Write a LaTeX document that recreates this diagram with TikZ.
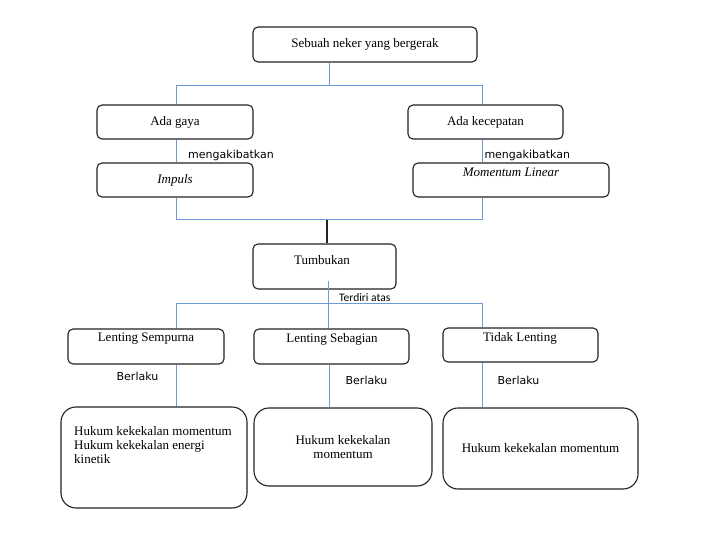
\documentclass[tikz,border=0pt]{standalone}
\usepackage{fontspec}
\setmainfont{Liberation Serif}
\newfontfamily\dvsans{DejaVu Sans}
\newfontfamily\carl{Carlito}
\definecolor{linkc}{HTML}{6B9AD6}
\definecolor{boxc}{HTML}{222222}
\tikzset{
  box/.style={draw=boxc, line width=1.1pt, rounded corners=5pt, inner sep=0pt, anchor=center,
    font=\fontsize{13}{14}\selectfont},
  bigbox/.style={box, rounded corners=15pt},
  txt/.style={inner sep=0pt, font=\fontsize{13}{14}\selectfont},
  lab/.style={inner sep=0pt, font=\dvsans\fontsize{11}{13}\selectfont},
  labc/.style={inner sep=0pt, font=\carl\fontsize{11.5}{13}\selectfont},
  link/.style={draw=linkc, line width=1pt},
  dark/.style={draw=boxc, line width=1.1pt}
}
\begin{document}
\begin{tikzpicture}[x=1pt,y=-1pt]
\useasboundingbox (0,0) rectangle (704,537);
% boxes
\node[box, minimum width=224pt, minimum height=35pt] (top) at (365,44.5) {Sebuah neker yang bergerak};
\node[box, minimum width=156pt, minimum height=34pt] (gaya) at (175,122) {Ada gaya};
\node[box, minimum width=155pt, minimum height=34pt] (kec) at (485.5,122) {Ada kecepatan};
\node[box, minimum width=156pt, minimum height=34pt] (imp) at (175,180) {\itshape Impuls};
\node[box, minimum width=196pt, minimum height=34pt] (mom) at (511,180) {};
\node[txt] (momt) at (511,172) {\itshape Momentum Linear};
\node[box, minimum width=143pt, minimum height=45pt] (tumb) at (324.5,266.5) {};
\node[txt] (tumbt) at (322,260) {Tumbukan};
\node[box, minimum width=156pt, minimum height=35pt] (ls) at (146,346.5) {};
\node[txt] (lst) at (146,339) {Lenting Sempurna};
\node[box, minimum width=155pt, minimum height=35pt] (lsb) at (331.5,346.5) {};
\node[txt] (lsbt) at (332,339) {Lenting Sebagian};
\node[box, minimum width=155pt, minimum height=34pt] (tl) at (520.5,345) {};
\node[txt] (tlt) at (520,338) {Tidak Lenting};
\node[bigbox, minimum width=186pt, minimum height=101pt] (b1) at (154,457.5) {};
\node[txt, align=left, anchor=north west] (b1t) at (74,426) {Hukum kekekalan momentum\\Hukum kekekalan energi\\kinetik};
\node[bigbox, minimum width=178pt, minimum height=78pt, align=center] (b2) at (343,447) {Hukum kekekalan\\momentum};
\node[bigbox, minimum width=195pt, minimum height=81pt] (b3) at (540.5,448.5) {Hukum kekekalan momentum};
% labels
\node[lab, anchor=west] (m1) at (188,155) {mengakibatkan};
\node[lab, anchor=west] (m2) at (484.3,155) {mengakibatkan};
\node[labc] (ta) at (364.7,298) {Terdiri atas};
\node[lab] (be1) at (137.5,376) {Berlaku};
\node[lab] (be2) at (366.5,380) {Berlaku};
\node[lab] (be3) at (518.5,380) {Berlaku};
% junction coordinates
\coordinate (j1) at (329,86);
\coordinate (j1l) at (176,86);
\coordinate (j1r) at (482,86);
\coordinate (j2l) at (176,220);
\coordinate (j2r) at (482,220);
\coordinate (j2) at (327,220);
\coordinate (t0) at (328.3,281);
\coordinate (j3) at (328.3,304);
\coordinate (j3l) at (176.5,304);
\coordinate (j3r) at (482.3,304);
% connectors
\draw[link] (j1 |- top.south) -- (j1);
\draw[link] (j1l |- gaya.north) -- (j1l) -- (j1r) -- (j1r |- kec.north);
\draw[link] (j1l |- gaya.south) -- (j1l |- imp.north);
\draw[link] (j1r |- kec.south) -- (j1r |- mom.north);
\draw[link] (j2l |- imp.south) -- (j2l) -- (j2r) -- (j2r |- mom.south);
\draw[dark] (j2) -- (j2 |- tumb.north);
\draw[link] (t0) -- (t0 |- lsb.north);
\draw[link] (j3l |- ls.north) -- (j3l) -- (j3r) -- (j3r |- tl.north);
\draw[link] (176.7,0 |- ls.south) -- (176.7,0 |- b1.north);
\draw[link] (329.3,0 |- lsb.south) -- (329.3,0 |- b2.north);
\draw[link] (482.3,0 |- tl.south) -- (482.3,0 |- b3.north);
\end{tikzpicture}
\end{document}
